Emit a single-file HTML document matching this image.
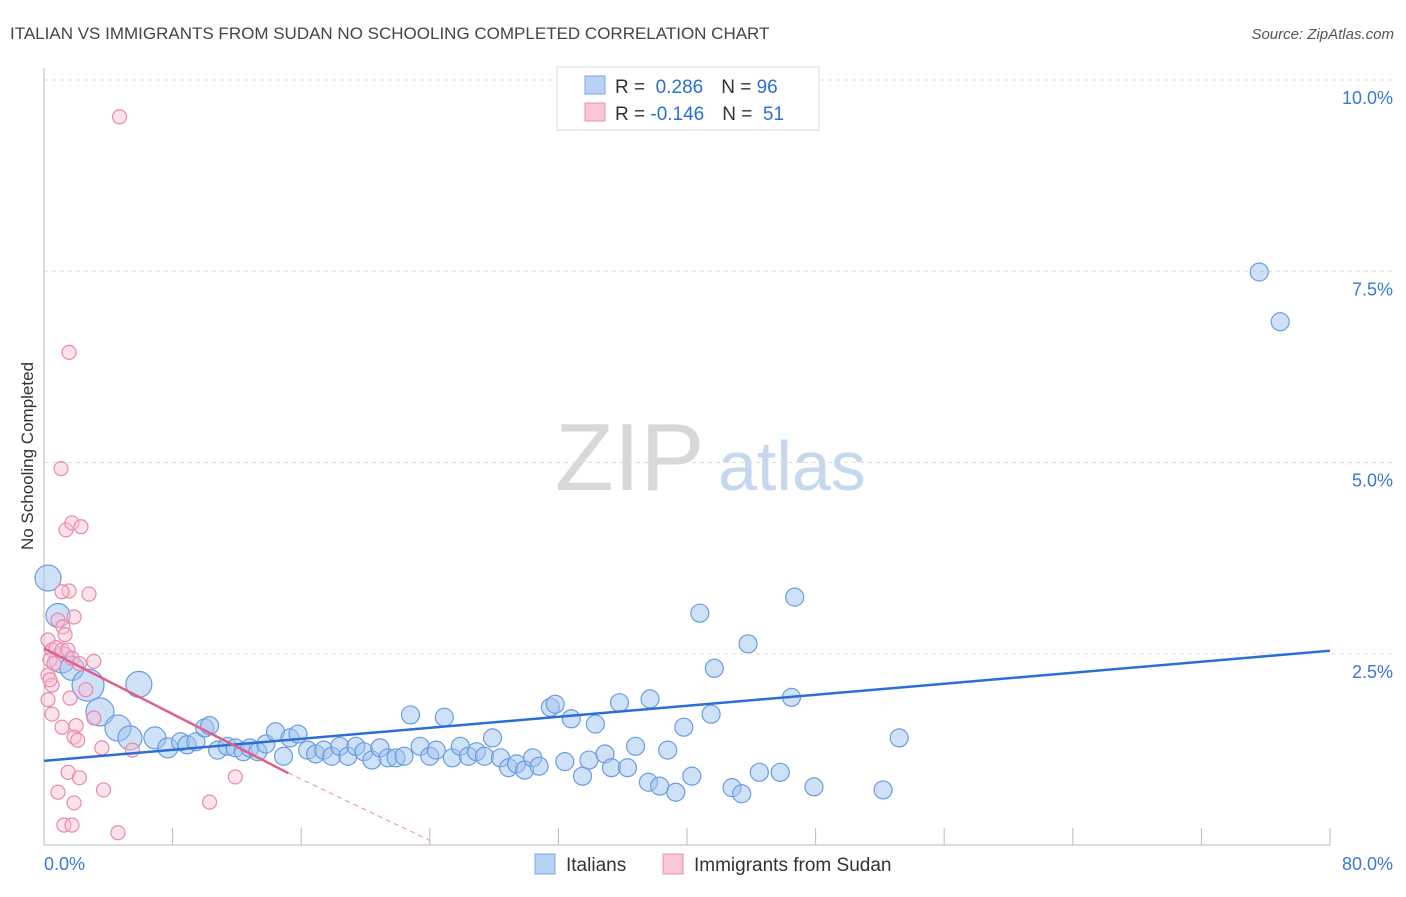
<!DOCTYPE html>
<html><head><meta charset="utf-8"><style>
body{margin:0;background:#fff;font-family:"Liberation Sans",sans-serif;}
svg text{font-family:"Liberation Sans",sans-serif;}
</style></head><body>
<svg id="chart" width="1406" height="892" viewBox="0 0 1406 892">
<text x="10" y="39" font-size="17" fill="#444">ITALIAN VS IMMIGRANTS FROM SUDAN NO SCHOOLING COMPLETED CORRELATION CHART</text>
<text x="1394" y="39" font-size="15" fill="#555" font-style="italic" text-anchor="end">Source: ZipAtlas.com</text>
<text x="33" y="456" font-size="17" fill="#333" text-anchor="middle" transform="rotate(-90 33 456)">No Schooling Completed</text>
<g>
<text x="555" y="490" font-size="96" fill="#d8d8d8" font-family="Liberation Serif">ZIP</text>
<text x="718" y="490" font-size="70" fill="#c6d8ee">atlas</text>
</g>
<g id="grid"></g><g id="axes"></g><g id="pts"></g><g id="trends"></g>
<g>
<rect x="557" y="67" width="262" height="63" fill="#fff" stroke="#ddd"/>
<rect x="585" y="76" width="20" height="18" fill="#b8d2f5" stroke="#7aa6e0"/>
<text x="615" y="93" font-size="19" fill="#333">R = <tspan fill="#2a6fd6">&#160;0.286</tspan><tspan dx="18">N = </tspan><tspan fill="#2a6fd6">96</tspan></text>
<rect x="585" y="103" width="20" height="18" fill="#f9c6d6" stroke="#ea8fb0"/>
<text x="615" y="120" font-size="19" fill="#333">R = <tspan fill="#2a6fd6">-0.146</tspan><tspan dx="18">N = </tspan><tspan fill="#2a6fd6">&#160;51</tspan></text>
</g>
<g>
<rect x="535" y="854" width="20" height="20" fill="#b8d2f5" stroke="#7aa6e0"/>
<text x="566" y="871" font-size="19" fill="#333">Italians</text>
<rect x="663" y="854" width="20" height="20" fill="#f9c6d6" stroke="#ea8fb0"/>
<text x="694" y="871" font-size="19" fill="#333">Immigrants from Sudan</text>
</g>
</svg>
<script>
const yTicks=[2.5,5,7.5,10];
const yTickLabels=["2.5%","5.0%","7.5%","10.0%"];
const xTicks=[0,8,16,24,32,40,48,56,64,72,80];
const blueX=[0.25,0.87,1.12,1.74,2.74,3.48,4.6,5.35,5.9,6.9,7.7,8.5,8.9,9.45,10.0,10.3,10.8,11.4,11.9,12.4,12.8,13.3,13.8,14.4,14.9,15.3,15.8,16.4,16.9,17.4,17.9,18.4,18.9,19.4,19.9,20.4,20.9,21.4,21.9,22.4,22.8,23.4,24.0,24.4,24.9,25.4,25.9,26.4,26.9,27.4,27.9,28.4,28.9,29.4,29.9,30.4,30.8,31.5,31.8,32.4,32.8,33.5,33.9,34.3,34.9,35.3,35.8,36.3,36.8,37.6,37.7,38.3,38.8,39.3,39.8,40.3,40.8,41.5,41.7,42.8,43.4,43.8,44.5,45.8,46.5,46.7,47.9,52.2,53.2,75.6,76.9];
const blueY=[3.49,3.0,2.42,2.31,2.09,1.74,1.53,1.4,2.1,1.4,1.27,1.35,1.31,1.35,1.53,1.56,1.24,1.29,1.27,1.22,1.27,1.22,1.32,1.48,1.16,1.4,1.45,1.24,1.19,1.24,1.16,1.29,1.16,1.29,1.22,1.11,1.27,1.14,1.14,1.16,1.7,1.29,1.16,1.24,1.67,1.14,1.29,1.16,1.22,1.16,1.4,1.14,1.01,1.06,0.98,1.14,1.03,1.8,1.84,1.09,1.65,0.9,1.11,1.58,1.19,1.01,1.86,1.01,1.29,0.82,1.91,0.77,1.24,0.69,1.54,0.9,3.03,1.71,2.31,0.75,0.67,2.63,0.95,0.95,1.93,3.24,0.76,0.72,1.4,7.49,6.84];
const blueR=[13,12,13,12,16,14,13,12,13,11,10,9,9,9,9,9,9,9,9,9,9,9,9,9,9,9,9,9,9,9,9,9,9,9,9,9,9,9,9,9,9,9,9,9,9,9,9,9,9,9,9,9,9,9,9,9,9,9,9,9,9,9,9,9,9,9,9,9,9,9,9,9,9,9,9,9,9,9,9,9,9,9,9,9,9,9,9,9,9,9,9];
const pinkX=[4.7,1.56,1.06,1.37,1.74,2.3,1.56,2.8,1.12,0.87,1.87,1.18,1.31,0.25,0.5,0.75,1.12,1.49,1.74,0.37,0.62,3.1,2.2,0.25,0.5,0.37,2.6,1.62,0.5,3.1,1.12,2.0,1.87,2.1,3.6,5.5,1.5,2.2,11.9,0.87,3.7,1.87,10.3,1.24,1.74,4.6,0.25];
const pinkY=[9.52,6.44,4.92,4.12,4.21,4.16,3.32,3.28,3.31,2.94,2.98,2.85,2.75,2.68,2.55,2.58,2.55,2.55,2.44,2.42,2.37,2.4,2.37,2.22,2.09,2.16,2.03,1.92,1.71,1.66,1.54,1.56,1.41,1.37,1.27,1.24,0.95,0.88,0.89,0.69,0.72,0.55,0.56,0.26,0.26,0.16,1.9];
const blueTrend=[[0,1.1],[80,2.54]];
const pinkTrend=[[0,2.57],[15.2,0.94]];
const pinkDash=[[15.2,0.94],[24,0.06]];
const NS="http://www.w3.org/2000/svg";
const X0=44,X1=1330,Y0=845,Y10=80;
const sx=v=>X0+(X1-X0)*v/80;
const sy=v=>Y0-(Y0-Y10)*v/10;
function mk(t,a,p){const e=document.createElementNS(NS,t);for(const k in a)e.setAttribute(k,a[k]);p.appendChild(e);return e;}
const grid=document.getElementById('grid'),axes=document.getElementById('axes'),pts=document.getElementById('pts'),tr=document.getElementById('trends');
yTicks.forEach((v,i)=>{
 const l=mk('line',{x1:X0,x2:1394,y1:sy(v),y2:sy(v),stroke:'#ddd','stroke-dasharray':'4,4'},grid);
 
 
 const t=mk('text',{x:1393,y:sy(v)+24,'font-size':18,fill:'#3a78d6','text-anchor':'end'},grid);
 t.textContent=yTickLabels[i];
 
 
});
const ax=mk('line',{x1:X0,x2:X1,y1:Y0,y2:Y0,stroke:'#bbb'},axes);


const ay=mk('line',{x1:X0,x2:X0,y1:68,y2:Y0,stroke:'#bbb'},axes);


xTicks.forEach(v=>{
 const t=mk('line',{x1:sx(v),x2:sx(v),y1:828,y2:Y0,stroke:'#bbb'},axes);
 
 
});
const xl=mk('text',{x:44,y:870,'font-size':18,fill:'#3a78d6'},axes);xl.textContent='0.0%';


const xr=mk('text',{x:1393,y:870,'font-size':18,fill:'#3a78d6','text-anchor':'end'},axes);xr.textContent='80.0%';


blueX.forEach((v,i)=>{
 const c=mk('circle',{cx:sx(v),cy:sy(blueY[i]),r:blueR[i]||9,fill:'rgba(160,195,240,0.5)',stroke:'#6a9de0','stroke-width':1.2},pts);
 
 
});
pinkX.forEach((v,i)=>{
 const c=mk('circle',{cx:sx(v),cy:sy(pinkY[i]),r:7,fill:'rgba(248,190,210,0.45)',stroke:'#e98aab','stroke-width':1.2},pts);
 
 
});
const bl=mk('line',{x1:sx(blueTrend[0][0]),y1:sy(blueTrend[0][1]),x2:sx(blueTrend[1][0]),y2:sy(blueTrend[1][1]),stroke:'#2a6fd6','stroke-width':2.5},tr);


const pl=mk('line',{x1:sx(pinkTrend[0][0]),y1:sy(pinkTrend[0][1]),x2:sx(pinkTrend[1][0]),y2:sy(pinkTrend[1][1]),stroke:'#e0608c','stroke-width':2.5},tr);


const pd=mk('line',{x1:sx(pinkDash[0][0]),y1:sy(pinkDash[0][1]),x2:sx(pinkDash[1][0]),y2:sy(pinkDash[1][1]),stroke:'#eaa0ba','stroke-width':1.2,'stroke-dasharray':'5,4'},tr);


</script>
</body></html>
